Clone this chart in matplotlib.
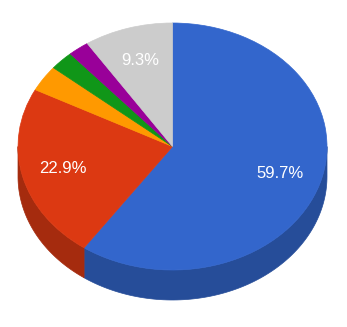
import matplotlib
matplotlib.use("Agg")
import matplotlib.pyplot as plt
import numpy as np

# slice shares, clockwise from 12 o'clock
shares = [59.7, 22.9, 3.4, 2.5, 2.2, 9.3]
colors = ["#3366cc", "#dc3912", "#ff9900", "#109618", "#990099", "#cccccc"]
side_colors = ["#264d99", "#a52b0e", "#bf7300", "#0c7112", "#730073", "#999999"]

W, H = 347, 327
cx, cy = 172.5, 146.5      # centre in pixels, from top-left
rx, ry = 154.5, 123.5      # ellipse radii in pixels
depth = 30 / ry            # pie thickness in y units

fig = plt.figure(figsize=(W / 100, H / 100), dpi=100)
ax = fig.add_axes([0, 0, 1, 1])

# side walls (front half only)
total = sum(shares)
start = 90.0
for s, c in zip(shares, side_colors):
    a1 = start
    a2 = start - s / total * 360
    start = a2
    for k in (-1, 0, 1):
        lo = max(a2, -180 + 360 * k)
        hi = min(a1, 360 * k)
        if hi <= lo:
            continue
        t = np.radians(np.linspace(lo, hi, 100))
        xs = np.concatenate([np.cos(t), np.cos(t[::-1])])
        ys = np.concatenate([np.sin(t), np.sin(t[::-1]) - depth])
        ax.fill(xs, ys, color=c, lw=0.5, ec=c, zorder=1)


def fmt(p):
    return "%.1f%%" % p if p > 5 else ""


wedges, texts, autotexts = ax.pie(
    shares, colors=colors, startangle=90, counterclock=False,
    autopct=fmt, pctdistance=0.73, radius=1,
    wedgeprops=dict(lw=0.5, antialiased=True),
    textprops=dict(color="white", fontsize=12, family="Liberation Sans"))
for w, c in zip(wedges, colors):
    w.set_edgecolor(c)
    w.set_zorder(2)
for t in autotexts:
    t.set_zorder(3)

ax.set_aspect("auto")
ax.set_xlim(-cx / rx, (W - cx) / rx)
ax.set_ylim(-(H - cy) / ry, cy / ry)
ax.axis("off")

fig.savefig("out.png", dpi=100)
